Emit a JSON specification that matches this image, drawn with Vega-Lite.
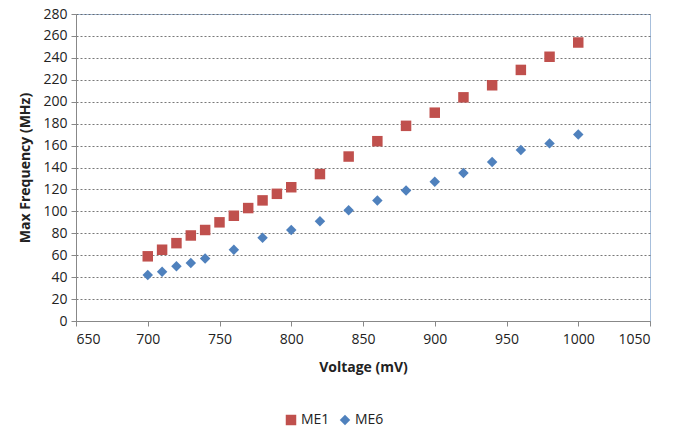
{
  "$schema": "https://vega.github.io/schema/vega-lite/v6.json",
  "width": 574,
  "height": 307,
  "autosize": "none",
  "padding": {"left": 76, "top": 14, "right": 32, "bottom": 107},
  "background": "white",
  "config": {
    "font": "Open Sans",
    "view": {"stroke": "#A7BFDC", "strokeWidth": 1}
  },
  "data": {
    "values": [
      {"v": 700, "f": 59, "s": "ME1"}, {"v": 710, "f": 65, "s": "ME1"}, {"v": 720, "f": 71, "s": "ME1"},
      {"v": 730, "f": 78, "s": "ME1"}, {"v": 740, "f": 83, "s": "ME1"}, {"v": 750, "f": 90, "s": "ME1"},
      {"v": 760, "f": 96, "s": "ME1"}, {"v": 770, "f": 103, "s": "ME1"}, {"v": 780, "f": 110, "s": "ME1"},
      {"v": 790, "f": 116, "s": "ME1"}, {"v": 800, "f": 122, "s": "ME1"}, {"v": 820, "f": 134, "s": "ME1"},
      {"v": 840, "f": 150, "s": "ME1"}, {"v": 860, "f": 164, "s": "ME1"}, {"v": 880, "f": 178, "s": "ME1"},
      {"v": 900, "f": 190, "s": "ME1"}, {"v": 920, "f": 204, "s": "ME1"}, {"v": 940, "f": 215, "s": "ME1"},
      {"v": 960, "f": 229, "s": "ME1"}, {"v": 980, "f": 241, "s": "ME1"}, {"v": 1000, "f": 254, "s": "ME1"},
      {"v": 700, "f": 42, "s": "ME6"}, {"v": 710, "f": 45, "s": "ME6"}, {"v": 720, "f": 50, "s": "ME6"},
      {"v": 730, "f": 53, "s": "ME6"}, {"v": 740, "f": 57, "s": "ME6"}, {"v": 760, "f": 65, "s": "ME6"},
      {"v": 780, "f": 76, "s": "ME6"}, {"v": 800, "f": 83, "s": "ME6"}, {"v": 820, "f": 91, "s": "ME6"},
      {"v": 840, "f": 101, "s": "ME6"}, {"v": 860, "f": 110, "s": "ME6"}, {"v": 880, "f": 119, "s": "ME6"},
      {"v": 900, "f": 127, "s": "ME6"}, {"v": 920, "f": 135, "s": "ME6"}, {"v": 940, "f": 145, "s": "ME6"},
      {"v": 960, "f": 156, "s": "ME6"}, {"v": 980, "f": 162, "s": "ME6"}, {"v": 1000, "f": 170, "s": "ME6"}
    ]
  },
  "mark": {"type": "point", "filled": true, "opacity": 1},
  "encoding": {
    "x": {
      "field": "v", "type": "quantitative",
      "scale": {"domain": [650, 1050], "nice": false, "zero": false},
      "axis": {
        "title": "Voltage (mV)", "values": [650, 700, 750, 800, 850, 900, 950, 1000, 1050], "format": "d",
        "grid": false, "domainColor": "#888888", "tickColor": "#888888", "tickSize": 5,
        "labelFontSize": 14, "labelColor": "#222222", "labelPadding": 6,
        "titleFontSize": 14, "titleFontWeight": "bold", "titleColor": "#222222", "titlePadding": 14
      }
    },
    "y": {
      "field": "f", "type": "quantitative",
      "scale": {"domain": [0, 280], "nice": false},
      "axis": {
        "title": "Max Frequency (MHz)", "values": [0, 20, 40, 60, 80, 100, 120, 140, 160, 180, 200, 220, 240, 260, 280],
        "grid": true, "gridColor": "#555555", "gridDash": [2, 2], "gridWidth": 0.8,
        "domainColor": "#888888", "tickColor": "#888888", "tickSize": 5,
        "labelFontSize": 14, "labelColor": "#222222", "labelPadding": 4,
        "titleFontSize": 14, "titleFontWeight": "bold", "titleColor": "#222222", "titlePadding": 10
      }
    },
    "color": {
      "field": "s", "type": "nominal",
      "scale": {"domain": ["ME1", "ME6"], "range": ["#C0504D", "#4F81BD"]},
      "legend": {
        "title": null, "orient": "none", "direction": "horizontal",
        "legendX": 208, "legendY": 399, "labelFontSize": 14, "labelColor": "#222222",
        "symbolSize": 80, "columnPadding": 8, "labelOffset": 3
      }
    },
    "shape": {
      "field": "s", "type": "nominal",
      "scale": {"domain": ["ME1", "ME6"], "range": ["square", "diamond"]}
    },
    "size": {
      "field": "s", "type": "nominal",
      "scale": {"domain": ["ME1", "ME6"], "range": [110, 110]},
      "legend": null
    }
  }
}
